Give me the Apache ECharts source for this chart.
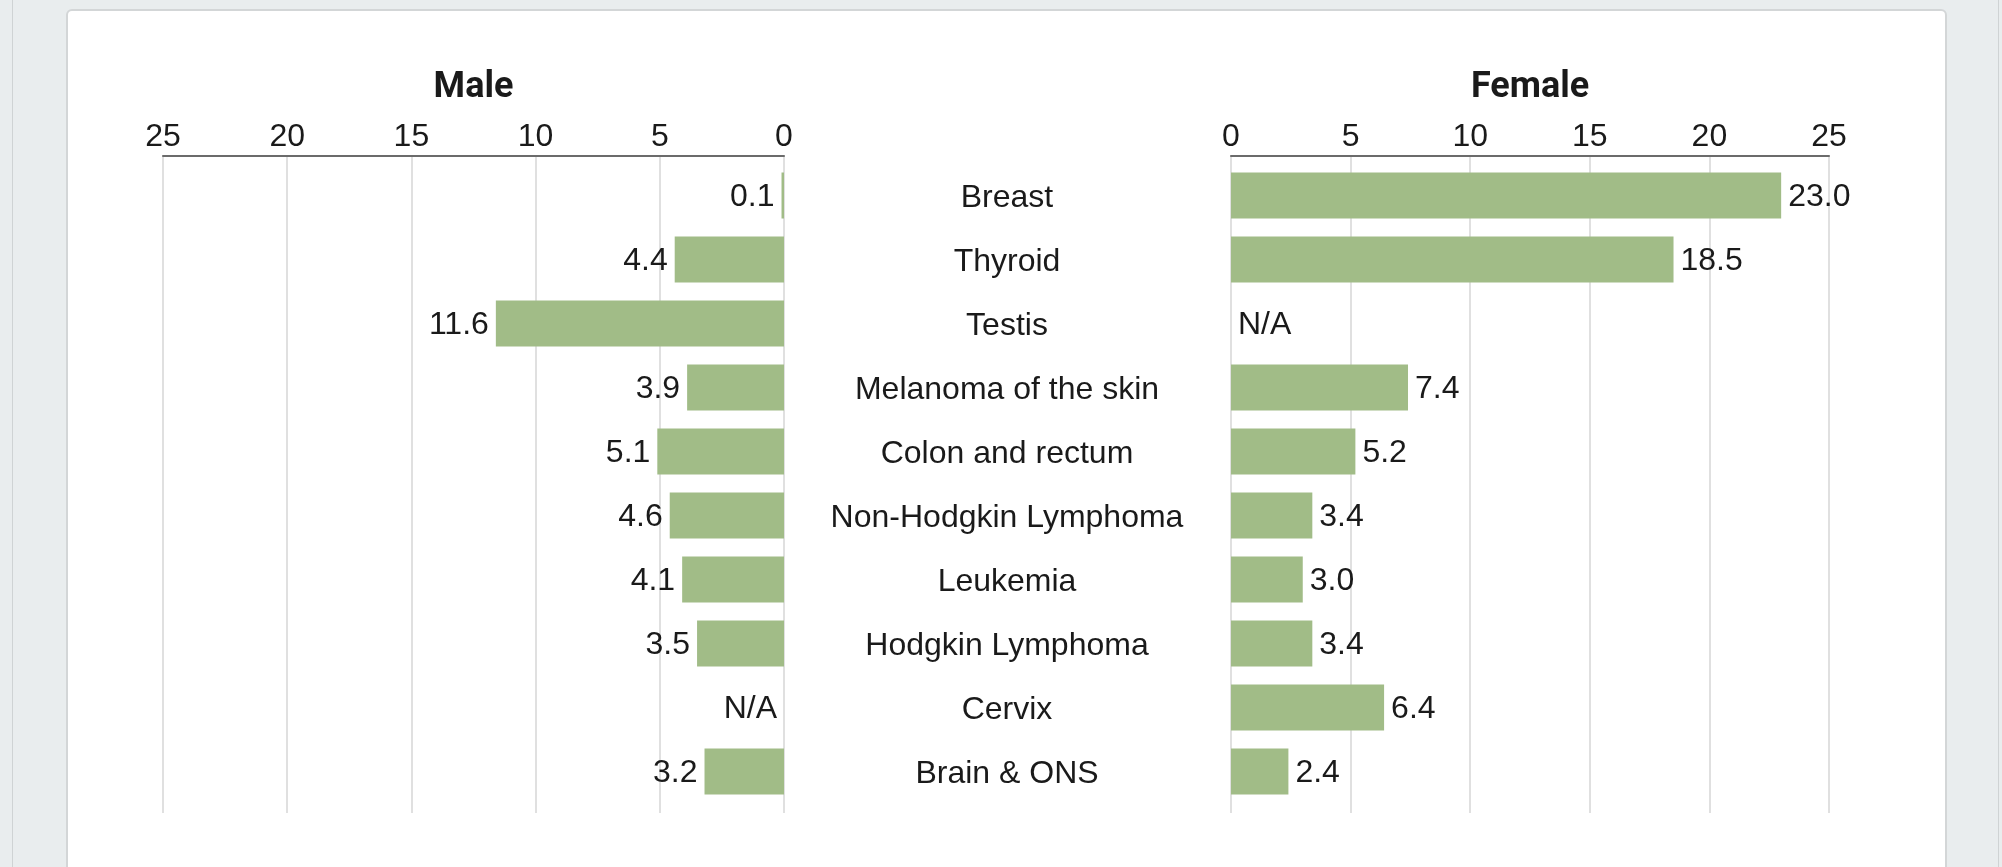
<!DOCTYPE html>
<html>
<head>
<meta charset="utf-8">
<script src="https://cdn.jsdelivr.net/npm/echarts@6/dist/echarts.min.js"></script>
<style>
  html, body { margin: 0; padding: 0; width: 2002px; height: 867px; overflow: hidden; background: #e9edee; }
  #frameL { position: absolute; left: 12px; top: 0; width: 1px; height: 867px; background: #cfd3d4; }
  #frameR { position: absolute; left: 1998px; top: 0; width: 1px; height: 867px; background: #cfd3d4; }
  #card { position: absolute; left: 66px; top: 9px; width: 1881px; height: 900px; background: #ffffff;
          border: 2px solid #d3d6d7; border-radius: 6px; box-sizing: border-box; }
  #chart { position: absolute; left: 0; top: 0; width: 2002px; height: 867px; }
</style>
</head>
<body>
<div id="frameL"></div>
<div id="frameR"></div>
<div id="card"></div>
<div id="chart"></div>
<script>
// ---- data ----
const categories = ["Breast", "Thyroid", "Testis", "Melanoma of the skin", "Colon and rectum",
  "Non-Hodgkin Lymphoma", "Leukemia", "Hodgkin Lymphoma", "Cervix", "Brain & ONS"];
const maleValues = [0.1, 4.4, 11.6, 3.9, 5.1, 4.6, 4.1, 3.5, null, 3.2];
const femaleValues = [23.0, 18.5, null, 7.4, 5.2, 3.4, 3.0, 3.4, 6.4, 2.4];
const axisTicks = [0, 5, 10, 15, 20, 25];
const panelTitles = ["Male", "Female"];

// ---- styles ----
const FONT = "'Liberation Sans', Arial, sans-serif";
const TEXT_COLOR = "#1a1a1a";
const BAR_COLOR = "#a1bc87";
const AXIS_MIN = axisTicks[0];
const AXIS_MAX = axisTicks[axisTicks.length - 1];
const AXIS_STEP = axisTicks[1] - axisTicks[0];

function toItems(arr) {
  return arr.map(v => v === null ? { value: 0, na: true } : { value: v });
}
function fmt(p) {
  return p.data && p.data.na ? "N/A" : Number(p.value).toFixed(1);
}

const visibleX = (gridIndex, inverse) => ({
  type: "value", gridIndex, min: AXIS_MIN, max: AXIS_MAX, interval: AXIS_STEP,
  inverse, position: "top",
  axisLine: { show: true, lineStyle: { color: "#6b6b6b", width: 2 } },
  axisTick: { show: false },
  axisLabel: { show: true, fontSize: 32, fontFamily: FONT, color: TEXT_COLOR, margin: 2 },
  splitLine: { show: true, lineStyle: { color: "#d6d6d6", width: 1.5 } }
});
const hiddenX = (gridIndex, inverse) => ({
  type: "value", gridIndex, min: AXIS_MIN, max: AXIS_MAX, interval: AXIS_STEP,
  inverse, show: false, splitLine: { show: false }
});
const hiddenY = (gridIndex) => ({
  type: "category", gridIndex, data: categories, inverse: true, show: false
});

const chart = echarts.init(document.getElementById("chart"), null, { renderer: "canvas" });
chart.setOption({
  animation: false,
  backgroundColor: "transparent",
  grid: [
    { left: 163, width: 621, top: 155.5, height: 657.5 },
    { left: 163, width: 621, top: 163.5, height: 640 },
    { left: 1231, width: 598, top: 155.5, height: 657.5 },
    { left: 1231, width: 598, top: 163.5, height: 640 }
  ],
  xAxis: [
    visibleX(0, true),
    hiddenX(1, true),
    visibleX(2, false),
    hiddenX(3, false)
  ],
  yAxis: [
    hiddenY(0),
    hiddenY(1),
    hiddenY(2),
    {
      type: "category", gridIndex: 3, data: categories, inverse: true,
      axisLine: { show: false }, axisTick: { show: false }, splitLine: { show: false },
      axisLabel: { show: true, align: "center", verticalAlign: "top", lineHeight: 6,
                   margin: 224, fontSize: 32, fontFamily: FONT, color: TEXT_COLOR, interval: 0 }
    }
  ],
  graphic: [
    { type: "text", x: 473.5, y: 88, z: 10,
      style: { text: panelTitles[0], align: "center", verticalAlign: "middle",
               textAlign: "center", textVerticalAlign: "middle",
               font: "bold 36px Roboto, 'Open Sans', sans-serif", fill: TEXT_COLOR } },
    { type: "text", x: 1530, y: 88, z: 10,
      style: { text: panelTitles[1], align: "center", verticalAlign: "middle",
               textAlign: "center", textVerticalAlign: "middle",
               font: "bold 36px Roboto, 'Open Sans', sans-serif", fill: TEXT_COLOR } }
  ],
  series: [
    {
      name: panelTitles[0], type: "bar", xAxisIndex: 1, yAxisIndex: 1,
      data: toItems(maleValues), barWidth: 46,
      itemStyle: { color: BAR_COLOR },
      label: { show: true, position: "left", distance: 7, formatter: fmt, offset: [0, 2],
               fontSize: 32, fontFamily: FONT, color: TEXT_COLOR }
    },
    {
      name: panelTitles[1], type: "bar", xAxisIndex: 3, yAxisIndex: 3,
      data: toItems(femaleValues), barWidth: 46,
      itemStyle: { color: BAR_COLOR },
      label: { show: true, position: "right", distance: 7, formatter: fmt, offset: [0, 2],
               fontSize: 32, fontFamily: FONT, color: TEXT_COLOR }
    }
  ]
});
</script>
</body>
</html>
